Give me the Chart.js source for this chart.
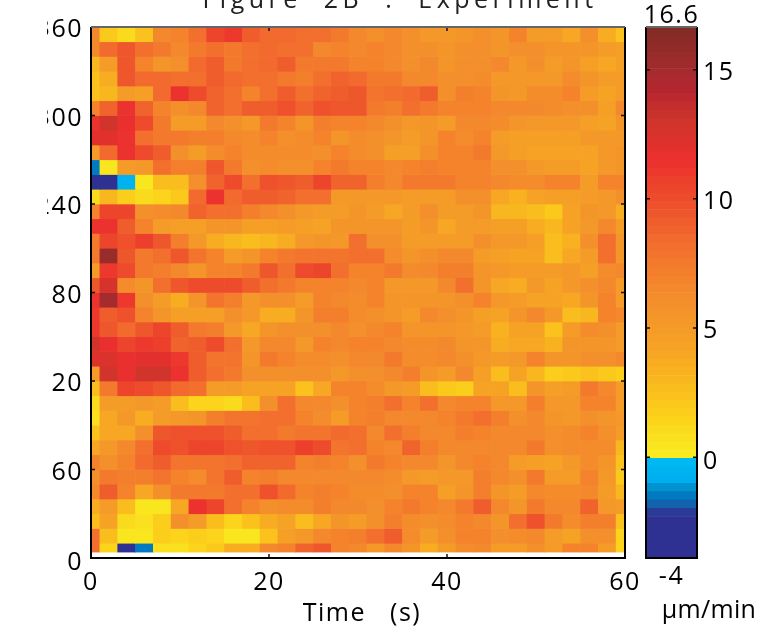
<!DOCTYPE html>
<html>
<head>
<meta charset="utf-8">
<title>Figure 2B : Experiment</title>
<script src="https://cdn.jsdelivr.net/npm/chart.js@4"></script>
<style>
  html, body { margin: 0; padding: 0; background: #fff; width: 761px; height: 632px; overflow: hidden; }
  canvas { position: absolute; }
  #mapChart { left: 47px; top: -24px; }
  #barChart { left: 620px; top: 0; }
</style>
</head>
<body>
<canvas id="mapChart" width="706" height="656"></canvas>
<canvas id="barChart" width="152" height="632"></canvas>
<script>
const titleText = 'Figure  2B  :  Experiment';
const xLabel = ' Time   (s)';
const unitLabel = 'µm/min';

// column centres in seconds
const times = [0,2,4,6,8,10,12,14,16,18,20,22,24,26,28,30,32,34,36,38,40,42,44,46,48,50,52,54,56,58,60];
// row edges from the top of the map down
const rowEdges = [360,350,340,330,320,310,300,290,280,270,260,250,240,230,220,210,200,190,180,170,160,150,140,130,120,110,100,90,80,70,60,50,40,30,20,10,4];

// values in um/min, one list per row, top row first
const row0 = [6.5,2,1,2.5,6.5,7,8,10.5,11,9,8.5,8.5,8,8,7.5,6.5,6,6.5,6,5.2,5.2,5.5,6,5.5,6.8,5,5,4,6,3.8,2.5];
const row1 = [6.5,8.5,9.5,8,7.5,6.5,7.5,8,7.5,8,8.5,8,8,6.5,7,6.5,7,6.5,6,6,5.5,6,6,5.5,6,6,5.5,5.5,5.5,5,4.5];
const row2 = [3,5,9.5,7,5.5,6,8.5,9,7.5,8,8.5,9,7.5,7.5,7.5,7,7,6.5,6,6.5,5.5,6,6,6.5,5.3,6,5,5.5,4.5,4,4.5];
const row3 = [2.5,3.5,9.5,8.5,8.5,8,8,9.2,8.5,8,8,7.5,7.2,8,8.7,8.5,7.5,7.5,6.5,6.5,6,6,6.2,5.3,5.2,5.2,5.2,6.2,5.7,5,5];
const row4 = [2.5,3,5,4.5,8.5,11.5,10,8.7,8,6.8,8,9,8,8.7,9,9.5,7.8,8,8.5,9,6,7.2,6.8,5.5,5.2,6.3,6.3,6.8,5,4.3,5];
const row5 = [7,8.8,11.5,8.8,7,6,6.5,8.8,8,9,9,9.6,8.8,9.8,9.5,9.5,7.5,7.2,8,7.5,7,6.8,6.8,6.6,6.6,6.6,6.2,5.8,5.8,4.5,6.5];
const row6 = [11.5,13,11.8,10,7.5,5,5,6.5,6,5.2,7.5,6.8,5.6,7.2,7,7,6.6,6,5.2,5.6,5,6.5,6.5,6.3,5.6,5.4,5.4,5.4,4.5,4.3,5.5];
const row7 = [12,12,11.5,8.2,7.5,7.5,7.2,7.2,6.5,6.2,6.8,6,6.2,6.8,5.5,6.2,6,5.5,5,5.5,7,6.2,7,5,4.5,4.5,4.5,4.5,5.3,5.3,5.3];
const row8 = [5,8.5,11.5,10,9,6,5,6.3,7,6.2,6.2,6.2,6.2,6,6.8,6.3,6,4.6,4.6,6,7,7,7.5,5.2,4.5,4.4,4.4,4.4,4.2,5.4,5.6];
const row9 = [-1.6,0.5,4.8,5.3,8,7.3,7.3,9.5,7.5,5.8,6.3,6,6,6.8,7.5,6.8,6.8,6.5,6.8,7.2,7,7,7,5.8,5.8,5.2,5,5,4.3,5.2,5.5];
const row10 = [-3,-3,-0.5,0.5,2.7,2.7,6,8.7,10,8.2,9.7,9.5,9,10.3,8.8,8.8,7.2,6.5,7.5,7.5,7.5,7,7,6.5,6.3,6.3,7,6.8,5,6.8,6.8];
const row11 = [1,3,1.8,1,1.3,2,8.5,11.5,8.5,9,9,8.7,8,8,5.3,5.3,5.3,5.2,5,5,5,6,6,4,3.3,4.3,4.6,4.6,5,5.2,5.8];
const row12 = [7,10.3,10.3,5.8,6.2,6.5,8.8,8,8,7.3,6.5,5.8,5.3,5,5,5.5,4.8,4,5,5.8,5,5,5.5,3,3,2.8,2,4.3,5.5,5.2,3.5];
const row13 = [11.5,11.5,9,7,4.8,4.5,4.5,5.6,5.6,4.7,4.7,5,4.7,4.2,5.6,5.5,5.5,5.5,4.8,5.5,4,5,5,4.5,4.5,3.8,3,4.2,5.2,6.5,5];
const row14 = [7.5,10.5,9.8,10.8,9.5,7.2,5.3,3.7,3,2.6,3,3.5,5.2,5.5,5.2,8,5.8,5.8,5,5,4.8,5,6,5.2,5.2,4.5,2.8,3.2,6,8.3,5.5];
const row15 = [7.5,15.5,9.5,7.5,8.2,9.3,7.8,6.8,5,5.5,7,7.5,7.8,7.8,7.8,8,8.2,6.3,5.5,6,6.5,6.5,5,4.5,4.3,4.3,2.6,4,5,8,5.5];
const row16 = [5,11,10,7.5,7.3,6.5,5.5,7,7,7.5,9.5,8,10,10.5,8,6.8,6.8,7.6,6.2,6.5,7.3,7.3,5.7,5.3,5,5,5,5.2,4.6,6.2,6.5];
const row17 = [9.5,12.5,6.2,5.5,8,9.3,10,10,10,9,8,7.5,7,7,7,6.5,6.8,5.2,5.2,5.2,6.5,8.2,5.6,4,3.5,5.2,4.4,5.2,5.8,6.6,5];
const row18 = [11.5,15,11,6,4.8,3.7,5.5,7.7,7.3,5.2,6,5.8,5,7,6.5,6.2,7,5.7,5.7,5.7,5.7,6,6.8,5.4,4.8,4.2,4.2,4,5.5,6.8,5];
const row19 = [11,9,9.8,7,5.5,4.5,4.5,4.5,5.8,5.2,3.7,3.7,5.6,7.2,7.2,6.2,5.8,5.6,4.8,6.6,6,5.6,4.6,4.2,5.5,6.6,5.2,2.8,3,6.8,6.6];
const row20 = [11,9.5,8.5,9.5,10.5,9.2,7.5,7.2,5.2,4,5.5,5.8,5.8,5.8,6.5,6,6.5,6.7,5.7,5.7,5.7,5.4,4.8,3.2,4.2,4.2,2.5,4.8,6.3,6,5];
const row21 = [13,11.7,10.5,11,10.7,8.8,9,10.2,8,5.4,6.6,6.6,5.2,7,6.5,6.8,6.8,6.5,6.3,6.3,6.5,5.7,5.7,3.6,4,3.9,3.2,5.6,5.6,5.6,5];
const row22 = [12.3,12.3,11.7,11.9,11.9,10.9,9,7.7,7.7,5.6,7.6,6.8,6.3,6.3,5.8,6.5,6.5,7.4,6.3,6.3,6.6,6,5.2,4.9,5.4,6.7,5.7,5.7,6,5.8,6.5];
const row23 = [4.8,12.9,11.8,13,13,11.5,9.2,8,7.6,6,6,6,6,6,5.3,5.8,5.8,6.5,7.3,5.7,4.8,6.6,4.7,2.8,4.3,3,1.6,2,2.5,2.2,1.6];
const row24 = [2.7,7.5,10.3,10,9.3,8.5,8,5,5,4.4,4.2,4.4,2.5,4,7,7,6.3,5.2,4.9,2.8,2.2,1.8,4.2,4.2,2.8,5.6,4.5,5,7.4,6.5,5];
const row25 = [1,5,5,5.2,5,2.6,1.3,1.3,1,2.7,6,8,6.6,6.6,5.8,6.8,7.2,8.2,7,8.2,6.6,6.7,6.7,5.2,5.3,7.2,5.3,5.2,6.7,6.7,5];
const row26 = [0.7,4,5.3,3.7,5,5.4,5.7,7.3,7.8,7.8,8,8,7,6.3,5,6.7,7.3,6.6,6.6,6.6,6.8,7.5,8.2,7.3,6,6.5,5.6,5.2,5.8,5.7,5.2];
const row27 = [2.3,4,4,6,9.5,9.8,9.6,9.6,9.2,8.3,8.1,7.5,7.9,7.9,8.4,8,6.5,8,7.3,6.5,6.5,7.2,6.8,6.5,6.5,6.5,5.8,6.1,6.7,5.8,5];
const row28 = [4,5.2,6.5,8,10,9.6,10.5,10.5,9.8,9.4,9.8,9.8,10.7,10,7.9,8,6.9,6.6,8.8,7.3,6.5,6.5,6.4,6.5,6.5,7.5,5.9,6.3,6.3,6.3,3];
const row29 = [6.8,6,6.8,8.5,9.2,7.7,7.7,7.7,8,8.7,8.7,8.7,7,7.2,6.7,6,7.6,7,6.6,6.4,5.5,6.4,7,6.5,4.8,4.7,4.2,5.4,6.2,5.7,2.5];
const row30 = [6,7.5,7.3,7.3,7.8,6.8,6.2,7.8,9,7,7.3,6.5,6.5,6.5,6.6,6.4,6.4,6.2,5.2,5,5.4,5.4,7.1,6.6,6,7.5,5,5,6.8,5.2,2];
const row31 = [6.5,9.2,6.9,4,5.8,7.5,7.5,7.5,8,8,9.7,8.6,7,7.2,7,6.3,6.3,6,6.7,6.7,4.7,5.6,7.1,5.6,5,6.6,6.3,6.3,6.6,5,3];
const row32 = [3.8,5,2.7,0.5,0.5,3.9,11.5,10.5,8.2,7,6,6.3,6.3,7.2,6.5,6.4,5.8,7,7.6,6.8,6.5,7.6,9,6.6,5.6,7.5,6.5,6.6,8.7,5.4,5];
const row33 = [2.7,4.2,1.2,0.7,1.8,5.8,4.8,2.6,1.3,2.4,3.8,4.2,2.7,4,5.5,5,5.8,7.1,6.3,6,6.3,7,6.6,5.6,8,9.7,7.5,6.1,7.2,7.2,2.5];
const row34 = [8,2.8,0.4,0.4,1.8,1.5,1.8,1.3,0.4,0.4,2.5,4.5,5.2,6.5,6.8,7.2,8,9,6.3,5,6,7,6.8,6,6.2,6.4,5,4.2,5.8,5.8,1.5];
const row35 = [8,1.5,-3,-1.6,0.8,0.8,1.3,2.2,3.5,3.8,6.5,7,8.8,9.5,7,6.5,5.3,6.5,5.7,3.5,4.8,6.2,6.5,5,5,5.8,5,6.7,7,5,1.5];
const rows = [row0,row1,row2,row3,row4,row5,row6,row7,row8,row9,row10,row11,row12,row13,row14,row15,row16,row17,
  row18,row19,row20,row21,row22,row23,row24,row25,row26,row27,row28,row29,row30,row31,row32,row33,row34,row35];

const xTicks = [0,20,40,60];
const yTicks = [0,60,120,180,240,300,360];
const barTicks = [0,5,10,15];
const barMin = -3.9;
const barMax = 16.65;
const barLevels = 64;

// colormap stops
const stopValues = [-4,-2.2,-1.9,-1.6,-1.2,-0.9,-0.1,0,0.5,1.5,2.5,3.5,4.5,5.5,6.5,7.5,8.5,9.5,10.5,11.5,13,14.2,15,16.6];
const stopColors = ['#2e3192','#2e3192','#1b5ca8','#0072bc','#0090cd','#00aeef','#00b9f2','#f9ed20','#f9e51f','#fbd21b','#fbc01d','#f8ae20','#f5a026','#f4962a','#f4882c','#f37a2d','#f2692e','#ee552c','#ec432b','#ec2f2e','#cf342b','#b5262f','#a32c2e','#812b24'];

const axisFont = { family: '"Open Sans", sans-serif', size: 25 };
const inkColor = '#000';
const tickSpacing = '1.5px';

function hexToRgb(hex) {
  return [1, 3, 5].map(i => parseInt(hex.slice(i, i + 2), 16));
}

// colormap is stepped, so snap to the middle of a level first
function colorFor(v) {
  const step = (barMax - barMin) / barLevels;
  const level = Math.min(barLevels - 1, Math.max(0, Math.floor((v - barMin) / step)));
  const mid = barMin + (level + 0.5) * step;
  let i = 0;
  while (i < stopValues.length - 2 && mid > stopValues[i + 1]) i++;
  const t = Math.max(0, Math.min(1, (mid - stopValues[i]) / (stopValues[i + 1] - stopValues[i])));
  const a = hexToRgb(stopColors[i]);
  const b = hexToRgb(stopColors[i + 1]);
  const c = a.map((n, k) => Math.round(n + (b[k] - n) * t));
  return `rgb(${c[0]},${c[1]},${c[2]})`;
}

// short inward ticks and the box around the plot
const framePlugin = {
  id: 'frame',
  beforeDraw(chart, args, opts) {
    const ctx = chart.ctx;
    ctx.letterSpacing = tickSpacing;
    // the title is spaced wider than the tick labels
    const block = chart.titleBlock;
    if (block && !block.spaced) {
      const draw = block.draw.bind(block);
      block.draw = () => {
        ctx.letterSpacing = opts.titleSpacing;
        draw();
        ctx.letterSpacing = tickSpacing;
      };
      block.spaced = true;
    }
    // vertical axis labels sit a little under their ticks in the original
    const yScale = chart.scales.y;
    if (!yScale.nudged) {
      yScale.getLabelItems().forEach(item => {
        item.options.translation[1] += item.label === '0' ? 5 : 3;
      });
      yScale.nudged = true;
    }
  },
  afterDraw(chart) {
    const { ctx, chartArea: a } = chart;
    const len = 4;
    ctx.save();
    ctx.strokeStyle = '#111';
    ctx.lineWidth = 1.5;
    Object.values(chart.scales).forEach(scale => {
      if (scale.type !== 'linear' || !scale.options.ticks.display) return;
      scale.ticks.forEach(tick => {
        const p = scale.getPixelForValue(tick.value);
        ctx.beginPath();
        if (scale.isHorizontal()) {
          ctx.moveTo(p, a.bottom); ctx.lineTo(p, a.bottom - len);
          ctx.moveTo(p, a.top); ctx.lineTo(p, a.top + len);
        } else {
          ctx.moveTo(a.left, p); ctx.lineTo(a.left + len, p);
          ctx.moveTo(a.right, p); ctx.lineTo(a.right - len, p);
        }
        ctx.stroke();
      });
    });
    ctx.lineWidth = 2;
    ctx.strokeStyle = '#000';
    ctx.beginPath();
    ctx.moveTo(a.left, a.top); ctx.lineTo(a.left, a.bottom); ctx.lineTo(a.right, a.bottom); ctx.lineTo(a.right, a.top);
    ctx.stroke();
    ctx.strokeStyle = '#666';
    ctx.beginPath();
    ctx.moveTo(a.left, a.top); ctx.lineTo(a.right, a.top);
    ctx.stroke();
    ctx.restore();
  }
};

const mapDatasets = rows.map((row, r) => ({
  data: row.map((v, c) => ({ x: times[c], y: [rowEdges[r + 1], rowEdges[r]] })),
  backgroundColor: row.map(v => colorFor(v)),
  borderWidth: 0,
  grouped: false,
  barPercentage: 1,
  categoryPercentage: 1,
  clip: 0
}));

new Chart(document.getElementById('mapChart'), {
  type: 'bar',
  data: { datasets: mapDatasets },
  plugins: [framePlugin],
  options: {
    responsive: false,
    animation: false,
    layout: { padding: { left: 0, right: 0, top: 0, bottom: 3 } },
    plugins: {
      legend: { display: false },
      tooltip: { enabled: false },
      frame: { titleSpacing: '4.5px' },
      title: {
        display: true,
        text: titleText,
        color: '#222',
        font: { ...axisFont, weight: 'normal' },
        padding: { top: 10, bottom: 11 }
      }
    },
    scales: {
      x: {
        type: 'linear',
        min: 0,
        max: 60,
        offset: false,
        afterBuildTicks: s => { s.ticks = xTicks.map(v => ({ value: v })); },
        afterFit: s => { s.height = 71; },
        grid: { display: false, drawTicks: false },
        border: { display: false },
        ticks: { color: inkColor, font: axisFont, padding: 10, maxRotation: 0 },
        title: { display: true, text: xLabel, color: inkColor, font: axisFont, padding: 0 }
      },
      y: {
        type: 'linear',
        min: 0,
        max: 360,
        afterBuildTicks: s => { s.ticks = yTicks.map(v => ({ value: v })); },
        afterFit: s => { s.width = 44; },
        grid: { display: false, drawTicks: false },
        border: { display: false },
        ticks: { color: inkColor, font: axisFont, padding: 8 }
      },
      // empty, keeps the title centred where the original has it
      ySpare: {
        type: 'linear',
        position: 'right',
        afterFit: s => { s.width = 128; },
        grid: { display: false, drawTicks: false },
        border: { display: false },
        ticks: { display: false }
      }
    }
  }
});

const barDatasets = [];
for (let i = 0; i < barLevels; i++) {
  const step = (barMax - barMin) / barLevels;
  const lo = barMin + i * step;
  barDatasets.push({
    data: [[lo, lo + step]],
    backgroundColor: colorFor(lo + step / 2),
    borderWidth: 0,
    grouped: false,
    barPercentage: 1,
    categoryPercentage: 1,
    xAxisID: 'x',
    yAxisID: 'y',
    clip: 0
  });
}

new Chart(document.getElementById('barChart'), {
  type: 'bar',
  data: { labels: ['-4'], datasets: barDatasets },
  plugins: [framePlugin],
  options: {
    responsive: false,
    animation: false,
    layout: { padding: { left: 26, right: 0, top: 0, bottom: 0 } },
    plugins: {
      legend: { display: false },
      tooltip: { enabled: false },
      frame: { titleSpacing: '0.3px' },
      title: {
        display: true,
        position: 'bottom',
        text: unitLabel,
        color: inkColor,
        font: { ...axisFont, weight: 'normal' },
        padding: { top: 0, bottom: 6 }
      }
    },
    scales: {
      x: {
        type: 'category',
        position: 'bottom',
        afterFit: s => { s.height = 38; },
        grid: { display: false, drawTicks: false },
        border: { display: false },
        ticks: { color: inkColor, font: axisFont, padding: 4, maxRotation: 0 }
      },
      xTop: {
        type: 'category',
        position: 'top',
        labels: ['16.6'],
        afterFit: s => { s.height = 27; },
        grid: { display: false, drawTicks: false },
        border: { display: false },
        ticks: { color: inkColor, font: axisFont, padding: -4, maxRotation: 0 }
      },
      y: {
        type: 'linear',
        position: 'right',
        min: barMin,
        max: barMax,
        afterBuildTicks: s => { s.ticks = barTicks.map(v => ({ value: v })); },
        afterFit: s => { s.width = 75; },
        grid: { display: false, drawTicks: false },
        border: { display: false },
        ticks: { color: inkColor, font: axisFont, padding: 6 }
      }
    }
  }
});
</script>
</body>
</html>
